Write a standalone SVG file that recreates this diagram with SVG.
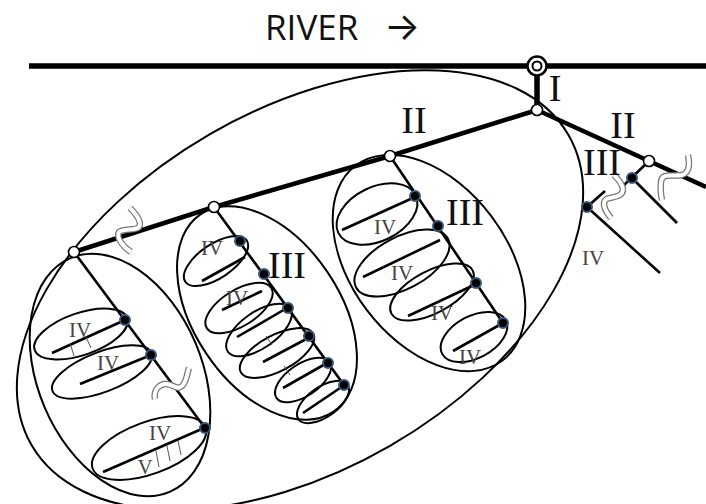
<svg xmlns="http://www.w3.org/2000/svg" width="706" height="504" viewBox="0 0 706 504">
<style>
.river{stroke:#000;stroke-width:5.5;fill:none}
.ii{stroke:#000;stroke-width:4.5;fill:none}
.ln{stroke:#000;stroke-width:2.6;fill:none}
.ell{fill:none;stroke:#000;stroke-width:2}
.node{fill:#fff;stroke:#000;stroke-width:1.6}
.dot{fill:#000;stroke:#35577d;stroke-width:2}
.num{font-family:"Liberation Serif",serif;font-size:38px;fill:#111;text-anchor:middle}
.sm{font-family:"Liberation Serif",serif;font-size:21px;fill:#444;text-anchor:middle}
.bo{fill:none;stroke:#777;stroke-width:6.5}
.bi{fill:none;stroke:#fff;stroke-width:4}
.tick{stroke:#555;stroke-width:1}
</style>
<rect width="706" height="504" fill="#fff"/>
<text x="265" y="40" font-family="'Open Sans',sans-serif" font-size="35" fill="#111">RIVER<tspan x="384" font-family="Inter,'DejaVu Sans',sans-serif" font-size="38">→</tspan></text>

<g id="basin-ii">
<ellipse class="ell" cx="300" cy="290" rx="310" ry="180" transform="rotate(-30 300 290)"/>
</g>

<g id="cluster1">
<ellipse class="ell" cx="120" cy="375" rx="127" ry="82" transform="rotate(67 120 375)"/>
<ellipse class="ell" cx="81" cy="334" rx="49" ry="21" transform="rotate(-19 81 334)"/>
<ellipse class="ell" cx="102" cy="372" rx="53" ry="20" transform="rotate(-21 102 372)"/>
<ellipse class="ell" cx="149" cy="448" rx="60" ry="26" transform="rotate(-20 149 448)"/>
</g>
<g id="cluster2">
<ellipse class="ell" cx="267" cy="313" rx="119" ry="73" transform="rotate(56 267 313)"/>
<ellipse class="ell" cx="216" cy="261" rx="37" ry="17" transform="rotate(-34 216 261)"/>
<ellipse class="ell" cx="239" cy="308" rx="38" ry="18" transform="rotate(-32 239 308)"/>
<ellipse class="ell" cx="259" cy="330" rx="38" ry="18" transform="rotate(-35 259 330)"/>
<ellipse class="ell" cx="277" cy="353" rx="41" ry="18" transform="rotate(-28 277 353)"/>
<ellipse class="ell" cx="303" cy="380" rx="32" ry="16" transform="rotate(-34 303 380)"/>
<ellipse class="ell" cx="323" cy="402" rx="30" ry="15" transform="rotate(-35 323 402)"/>
</g>
<g id="cluster3">
<ellipse class="ell" cx="429" cy="263" rx="122" ry="78" transform="rotate(53 429 263)"/>
<ellipse class="ell" cx="377" cy="214" rx="43" ry="27" transform="rotate(-26 377 214)"/>
<ellipse class="ell" cx="402" cy="263" rx="52" ry="26" transform="rotate(-28 402 263)"/>
<ellipse class="ell" cx="432" cy="292" rx="46" ry="21" transform="rotate(-28 432 292)"/>
<ellipse class="ell" cx="474" cy="337" rx="36" ry="21" transform="rotate(-28 474 337)"/>
</g>

<g id="connectors">
<line class="river" x1="29" y1="66" x2="706" y2="66"/>
<line class="river" x1="537" y1="70" x2="537" y2="110"/>
<polyline class="ii" points="537,110 390,156 214,207 74,252"/>
<line class="ii" x1="537" y1="110" x2="706" y2="187"/>
<line class="ln" x1="74" y1="252" x2="205" y2="428"/>
<line class="ln" x1="52" y1="353" x2="125" y2="320"/>
<line class="ln" x1="80" y1="384" x2="151" y2="355"/>
<line class="ln" x1="103" y1="472" x2="204" y2="428"/>
<line class="tick" x1="70" y1="343" x2="74" y2="356"/>
<line class="tick" x1="86" y1="337" x2="91" y2="348"/>
<line class="tick" x1="156" y1="451" x2="159" y2="467"/>
<line class="tick" x1="167" y1="446" x2="170" y2="461"/>
<line class="tick" x1="178" y1="441" x2="181" y2="455"/>
<line class="ln" x1="214" y1="207" x2="344" y2="385"/>
<line class="ln" x1="202" y1="281" x2="245" y2="257"/>
<line class="ln" x1="222" y1="310" x2="262" y2="291"/>
<line class="ln" x1="237" y1="337" x2="287" y2="308"/>
<line class="ln" x1="263" y1="362" x2="310" y2="337"/>
<line class="ln" x1="283" y1="388" x2="327" y2="363"/>
<line class="ln" x1="303" y1="413" x2="343" y2="386"/>
<line class="tick" x1="266" y1="336" x2="272" y2="345"/>
<line class="tick" x1="284" y1="366" x2="290" y2="375"/>
<line class="ln" x1="390" y1="156" x2="503" y2="323"/>
<line class="ln" x1="342" y1="230" x2="415" y2="197"/>
<line class="ln" x1="363" y1="277" x2="440" y2="240"/>
<line class="ln" x1="408" y1="316" x2="474" y2="285"/>
<line class="ln" x1="453" y1="351" x2="503" y2="323"/>
<line class="ln" x1="649" y1="161" x2="623" y2="186"/>
<line class="ln" x1="605" y1="191" x2="587" y2="207"/>
<line class="ln" x1="632" y1="178" x2="677" y2="223"/>
<line class="ln" x1="587" y1="207" x2="660" y2="273"/>
</g>

<g id="breaks">
<path class="bo" d="M130,208 C136,214 142,222 139,227 C136,231 124,228 119,232 C116,237 122,246 131,252"/>
<path class="bi" d="M130,208 C136,214 142,222 139,227 C136,231 124,228 119,232 C116,237 122,246 131,252"/>
<path class="bo" d="M155,399 C153,390 160,383 167,384 C174,385 178,391 183,385 C187,380 187,373 189,368"/>
<path class="bi" d="M155,399 C153,390 160,383 167,384 C174,385 178,391 183,385 C187,380 187,373 189,368"/>
<path class="bo" d="M614,175 C620,181 627,190 620,195 C613,199 604,196 604,204 C604,210 608,214 611,218"/>
<path class="bi" d="M614,175 C620,181 627,190 620,195 C613,199 604,196 604,204 C604,210 608,214 611,218"/>
<path class="bo" d="M688,155 C690,165 689,173 682,175 C672,177 662,172 661,182 C660,190 661,195 662,200"/>
<path class="bi" d="M688,155 C690,165 689,173 682,175 C672,177 662,172 661,182 C660,190 661,195 662,200"/>
</g>

<g id="outlet">
<circle cx="537" cy="66" r="9.5" fill="#fff" stroke="#000" stroke-width="2.5"/>
<circle cx="537" cy="66" r="4.5" fill="#fff" stroke="#000" stroke-width="2"/>
</g>
<g id="junctions">
<circle class="node" cx="537" cy="110" r="5.5"/>
<circle class="node" cx="390" cy="156" r="5.5"/>
<circle class="node" cx="214" cy="207" r="5.5"/>
<circle class="node" cx="74" cy="252" r="5.5"/>
<circle class="node" cx="649" cy="161" r="5.5"/>
</g>
<g id="heads">
<circle class="dot" cx="125" cy="320" r="5"/>
<circle class="dot" cx="151" cy="355" r="5"/>
<circle class="dot" cx="205" cy="428" r="5"/>
<circle class="dot" cx="240" cy="241" r="5"/>
<circle class="dot" cx="264" cy="274" r="5"/>
<circle class="dot" cx="288" cy="308" r="5"/>
<circle class="dot" cx="309" cy="336" r="5"/>
<circle class="dot" cx="328" cy="363" r="5"/>
<circle class="dot" cx="344" cy="385" r="5"/>
<circle class="dot" cx="415" cy="196" r="5"/>
<circle class="dot" cx="438" cy="226" r="5"/>
<circle class="dot" cx="476" cy="283" r="5"/>
<circle class="dot" cx="503" cy="323" r="5"/>
<circle class="dot" cx="632" cy="178" r="5"/>
<circle class="dot" cx="587" cy="207" r="5"/>
</g>

<g id="labels">
<text class="num" x="555" y="101">I</text>
<text class="num" x="414" y="133">II</text>
<text class="num" x="623" y="138">II</text>
<text class="num" x="602" y="175">III</text>
<text class="num" x="465" y="225">III</text>
<text class="num" x="287" y="278">III</text>
<text class="sm" x="80" y="337">IV</text>
<text class="sm" x="108" y="370">IV</text>
<text class="sm" x="160" y="440">IV</text>
<text class="sm" x="145" y="474">V</text>
<text class="sm" x="212" y="255" font-size="19">IV</text>
<text class="sm" x="237" y="305" font-size="19">IV</text>
<text class="sm" x="385" y="234">IV</text>
<text class="sm" x="402" y="280">IV</text>
<text class="sm" x="442" y="320">IV</text>
<text class="sm" x="470" y="364">IV</text>
<text class="sm" x="593" y="265" font-size="19">IV</text>
</g>
</svg>
